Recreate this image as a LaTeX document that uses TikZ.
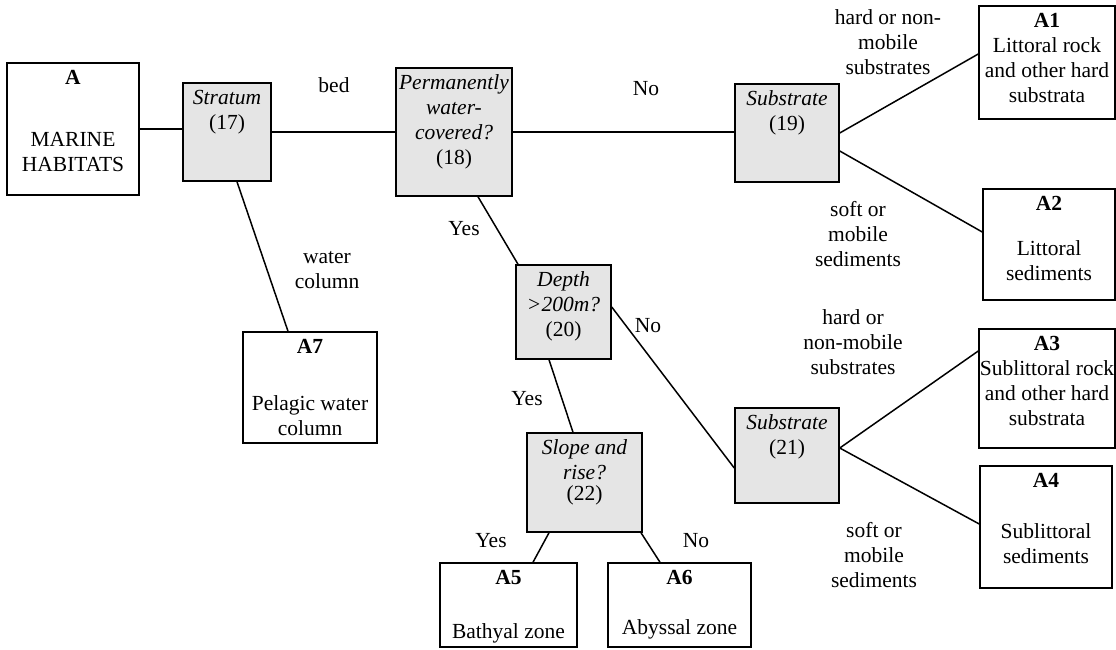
\documentclass[tikz,border=0pt]{standalone}
\usepackage{fontspec}
\setmainfont{Liberation Serif}
\definecolor{qgray}{gray}{0.9}
\newcommand{\boxtext}[3]{\parbox[c][#2pt][t]{#1pt}{\centering\rule{0pt}{21pt}#3}}
\begin{document}
\begin{tikzpicture}[x=1pt, y=-1pt, line width=1.5pt,
    every node/.style={font=\fontsize{21.5}{25}\selectfont},
    leaf/.style={shape=rectangle, draw, inner sep=0pt},
    query/.style={leaf, fill=qgray},
    lab/.style={align=center, anchor=base, inner sep=0pt}]
\useasboundingbox (0,0) rectangle (1116,649);
% Nodes
\node[leaf] (A) at (73,129) {\boxtext{132}{132}{\textbf{A}\\[37pt]MARINE\\HABITATS}};
\node[query] (strat) at (227,132) {\boxtext{88}{98}{\textit{Stratum}\\(17)}};
\node[query] (perm) at (454,132) {\boxtext{116}{128}{\textit{Permanently}\\\textit{water-}\\\textit{covered?}\\(18)}};
\node[query] (sub19) at (787,133) {\boxtext{104}{98}{\textit{Substrate}\\(19)}};
\node[leaf] (lit1) at (1047,62.5) {\boxtext{136}{113}{\textbf{A1}\\Littoral rock\\and other hard\\substrata}};
\node[leaf] (lit2) at (1049,244.5) {\boxtext{132}{111}{\textbf{A2}\\[20pt]Littoral\\sediments}};
\node[leaf] (pel) at (310,387.5) {\boxtext{134}{111}{\textbf{A7}\\[32pt]Pelagic water\\column}};
\node[query] (depth) at (563.5,312) {\boxtext{95}{94}{\textit{Depth}\\\textit{>200m?}\\(20)}};
\node[query] (sub21) at (787,455.5) {\boxtext{104}{95}{\textit{Substrate}\\(21)}};
\node[leaf] (sub3) at (1047,388.5) {\boxtext{136}{119}{\textbf{A3}\\Sublittoral rock\\and other hard\\substrata}};
\node[leaf] (sub4) at (1046,527) {\boxtext{132}{122}{\textbf{A4}\\[26pt]Sublittoral\\sediments}};
\node[query] (slope) at (584.5,482.5) {\boxtext{115}{99}{\textit{Slope and}\\\textit{rise?}\\[-4pt](22)}};
\node[leaf] (bath) at (508.5,605) {\boxtext{137}{84}{\textbf{A5}\\[29pt]Bathyal zone}};
\node[leaf] (abys) at (679.5,605) {\boxtext{143}{84}{\textbf{A6}\\[25pt]Abyssal zone}};
% Labels
\node[lab] (bed) at (334,92) {bed};
\node[lab] (no1) at (646,95) {No};
\node[lab] (yes1) at (464,235) {Yes};
\node[lab] (no2) at (648,332) {No};
\node[lab] (yes2) at (527,405) {Yes};
\node[lab] (yes3) at (491,547) {Yes};
\node[lab] (no3) at (696,547) {No};
\node[lab] (wcol) at (327,288) {water\\column};
\node[lab] (hard1) at (888,74) {hard or non-\\mobile\\substrates};
\node[lab] (soft1) at (858,266) {soft or\\mobile\\sediments};
\node[lab] (hard2) at (853,374) {hard or\\non-mobile\\substrates};
\node[lab] (soft2) at (874,587) {soft or\\mobile\\sediments};
% Edges
\draw (A.east) -- (A.east -| strat.west);
\draw (strat.east) -- (strat.east -| perm.west);
\draw (perm.east) -- (perm.east -| sub19.west);
\draw ([xshift=10pt]strat.south) -- ([xshift=-22pt]pel.north);
\draw ([xshift=24pt]perm.south) -- ([xshift=-45.5pt]depth.north);
\draw (sub19.east) -- ([yshift=8.5pt]lit1.west);
\draw ([yshift=-18pt]sub19.east) -- ([yshift=12.5pt]lit2.west);
\draw ([yshift=5pt]depth.east) -- ([yshift=-12.5pt]sub21.west);
\draw ([xshift=-14.5pt]depth.south) -- ([xshift=-11.5pt]slope.north);
\draw ([yshift=7.5pt]sub21.east) -- ([yshift=37.5pt]sub3.west);
\draw ([yshift=7.5pt]sub21.east) -- ([yshift=3pt]sub4.west);
\draw ([xshift=-35.5pt]slope.south) -- ([xshift=24.5pt]bath.north);
\draw ([xshift=56.5pt]slope.south) -- ([xshift=-19.5pt]abys.north);
\end{tikzpicture}
\end{document}
